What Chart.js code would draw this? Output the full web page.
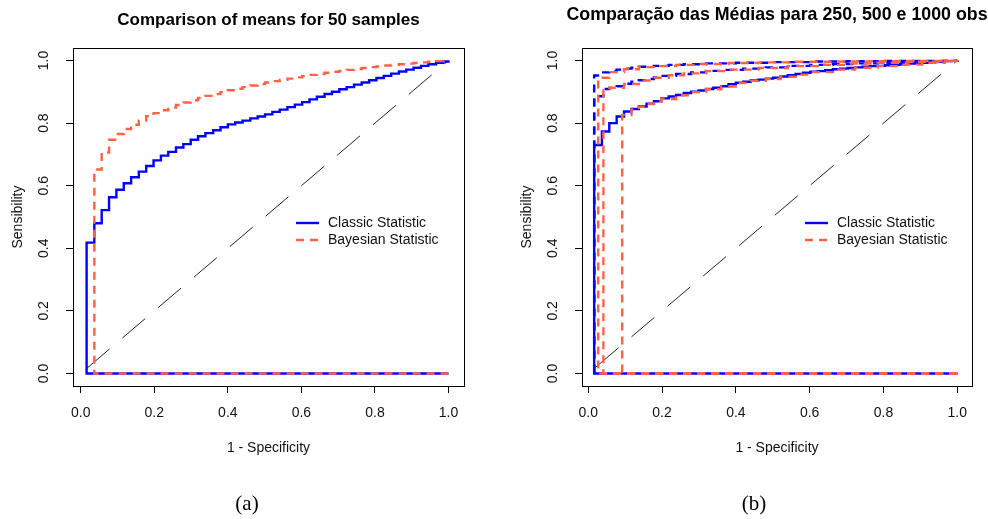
<!DOCTYPE html>
<html lang="pt-BR">
<head>
<meta charset="utf-8">
<title>Curvas ROC</title>
<script src="https://cdn.jsdelivr.net/npm/chart.js@4.4.0/dist/chart.umd.min.js"></script>
<style>
  body { margin: 0; background: #fff; width: 988px; height: 519px; position: relative; overflow: hidden; }
  canvas { position: absolute; top: 0; }
  #graficoA { left: 0; }
  #graficoB { left: 494px; }
  .legenda {
    position: absolute; top: 491px; width: 60px; text-align: center;
    font-family: "Liberation Serif", "DejaVu Serif", serif; font-size: 21px; color: #000;
  }
</style>
</head>
<body>
<canvas id="graficoA" width="494" height="519"></canvas>
<canvas id="graficoB" width="494" height="519"></canvas>
<div class="legenda" style="left:217px">(a)</div>
<div class="legenda" style="left:724px">(b)</div>

<script>
// Marcas dos eixos (0.0 a 1.0)
const marcasEixo = [0, 0.2, 0.4, 0.6, 0.8, 1.0];
const rotulosLegenda = ['Classic Statistic', 'Bayesian Statistic'];

// Pontos de corte de 1 - especificidade (passos da curva ROC)
const fprPassos = [
  0.016, 0.037, 0.057, 0.077, 0.097, 0.117, 0.137, 0.158, 0.178, 0.198,
  0.218, 0.238, 0.259, 0.279, 0.299, 0.319, 0.339, 0.360, 0.380, 0.400,
  0.420, 0.440, 0.461, 0.481, 0.501, 0.521, 0.541, 0.562, 0.582, 0.602,
  0.622, 0.642, 0.663, 0.683, 0.703, 0.723, 0.743, 0.764, 0.784, 0.804,
  0.824, 0.844, 0.865, 0.885, 0.905, 0.925, 0.945, 0.966, 0.986, 1.000
];

// ---- Painel (a): 50 amostras ----
const tprClassico50 = [
  0.418, 0.480, 0.522, 0.563, 0.587, 0.608, 0.627, 0.645, 0.663, 0.681,
  0.696, 0.708, 0.722, 0.733, 0.747, 0.758, 0.768, 0.777, 0.787, 0.796,
  0.802, 0.808, 0.815, 0.821, 0.828, 0.836, 0.843, 0.851, 0.859, 0.867,
  0.876, 0.884, 0.893, 0.900, 0.908, 0.915, 0.923, 0.930, 0.937, 0.944,
  0.951, 0.958, 0.965, 0.971, 0.977, 0.983, 0.988, 0.993, 0.997, 1.000
];
const fprBayes50 = fprPassos.slice(1);
const tprBayes50 = [
         0.652, 0.706, 0.747, 0.765, 0.781, 0.795, 0.808, 0.822, 0.832,
  0.841, 0.850, 0.858, 0.866, 0.873, 0.880, 0.887, 0.893, 0.899, 0.905,
  0.910, 0.915, 0.920, 0.925, 0.930, 0.934, 0.938, 0.942, 0.946, 0.950,
  0.954, 0.957, 0.961, 0.964, 0.967, 0.970, 0.973, 0.976, 0.979, 0.981,
  0.984, 0.986, 0.988, 0.990, 0.992, 0.994, 0.996, 0.998, 0.999, 1.000
];

// ---- Painel (b): 250, 500 e 1000 observações ----
const tprClassico250 = [
  0.730, 0.773, 0.800, 0.821, 0.837, 0.845, 0.853, 0.862, 0.870, 0.879,
  0.885, 0.890, 0.896, 0.900, 0.904, 0.909, 0.913, 0.918, 0.924, 0.929,
  0.932, 0.936, 0.939, 0.942, 0.945, 0.949, 0.953, 0.957, 0.961, 0.964,
  0.966, 0.969, 0.972, 0.974, 0.976, 0.978, 0.980, 0.982, 0.983, 0.985,
  0.986, 0.988, 0.990, 0.992, 0.993, 0.995, 0.997, 0.998, 0.999, 1.000
];
const fprBayes250 = [0.092, 0.117, 0.137, 0.158, 0.178, 0.198, 0.238, 0.279, 0.319, 0.360,
                     0.400, 0.440, 0.481, 0.521, 0.562, 0.602, 0.663, 0.723, 0.784, 0.844,
                     0.905, 0.966, 1.000];
const tprBayes250 = [0.826, 0.843, 0.852, 0.861, 0.869, 0.877, 0.889, 0.899, 0.908, 0.917,
                     0.928, 0.935, 0.941, 0.948, 0.955, 0.963, 0.971, 0.977, 0.982, 0.987,
                     0.993, 0.998, 1.000];

const fprClassico500 = [0.016, 0.041, 0.057, 0.077, 0.097, 0.117, 0.137, 0.158, 0.178, 0.198,
                        0.238, 0.279, 0.319, 0.360, 0.420, 0.481, 0.541, 0.602, 0.663, 0.723,
                        0.784, 0.844, 0.905, 0.966, 1.000];
const tprClassico500 = [0.886, 0.909, 0.912, 0.918, 0.926, 0.932, 0.937, 0.941, 0.946, 0.951,
                        0.957, 0.962, 0.967, 0.970, 0.974, 0.978, 0.983, 0.986, 0.989, 0.991,
                        0.993, 0.995, 0.997, 0.999, 1.000];
const fprBayes500 = [0.041, 0.057, 0.097, 0.137, 0.178, 0.218, 0.259, 0.319, 0.380, 0.461,
                     0.541, 0.622, 0.703, 0.784, 0.865, 0.945, 1.000];
const tprBayes500 = [0.909, 0.913, 0.925, 0.936, 0.945, 0.953, 0.959, 0.966, 0.971, 0.976,
                     0.982, 0.986, 0.990, 0.993, 0.996, 0.998, 1.000];

const fprClassico1000 = [0.016, 0.037, 0.057, 0.077, 0.097, 0.117, 0.137, 0.178, 0.218, 0.259,
                         0.319, 0.400, 0.501, 0.602, 0.703, 0.804, 0.905, 1.000];
const tprClassico1000 = [0.952, 0.962, 0.967, 0.971, 0.974, 0.977, 0.980, 0.983, 0.986, 0.988,
                         0.991, 0.993, 0.995, 0.997, 0.998, 0.999, 0.999, 1.000];
const fprBayes1000 = [0.027, 0.057, 0.097, 0.137, 0.178, 0.238, 0.299, 0.380, 0.461, 0.562,
                      0.663, 0.764, 0.865, 1.000];
const tprBayes1000 = [0.945, 0.963, 0.972, 0.979, 0.982, 0.986, 0.989, 0.992, 0.994, 0.996,
                      0.997, 0.998, 0.999, 1.000];

// Linha de referência y = x (início e fim)
const diagonalA = [0.016, 1];
const diagonalB = [0.02, 1];

const AZUL = '#0000ff';
const VERMELHO = '#ff6347';
const TRACO = [8, 6];
const FONTE = '"Liberation Sans", Arial, Helvetica, sans-serif';

// Monta a curva ROC: parte de (1,0), volta pelo eixo e sobe em degraus
function curvaRoc(fpr, tpr) {
  const pontos = [{ x: 1, y: 0 }, { x: fpr[0], y: 0 }];
  fpr.forEach((x, i) => pontos.push({ x, y: tpr[i] }));
  return pontos;
}

function serie(fpr, tpr, cor, tracejado, ordem) {
  return {
    data: curvaRoc(fpr, tpr),
    borderColor: cor,
    borderWidth: 2.4,
    borderDash: tracejado ? TRACO : [],
    stepped: 'before',
    showLine: true,
    pointRadius: 0,
    order: ordem
  };
}

function serieDiagonal(extremos) {
  return {
    data: extremos.map(v => ({ x: v, y: v })),
    borderColor: '#222',
    borderWidth: 1,
    borderDash: [30, 17],
    showLine: true,
    pointRadius: 0,
    order: 3
  };
}

// Caixa, rótulos, títulos e legenda no estilo do R
const molduraR = {
  id: 'molduraR',
  afterDraw(chart, args, opts) {
    const { ctx, chartArea: a, scales } = chart;
    const cx = (a.left + a.right) / 2;
    ctx.save();
    ctx.strokeStyle = '#000';
    ctx.lineWidth = 1;
    ctx.strokeRect(Math.round(a.left) + 0.5, Math.round(a.top) + 0.5,
                   Math.round(a.right - a.left), Math.round(a.bottom - a.top));

    ctx.fillStyle = '#111';
    ctx.font = '14px ' + FONTE;
    ctx.textAlign = 'center';
    ctx.textBaseline = 'middle';
    marcasEixo.forEach(v => ctx.fillText(v.toFixed(1), scales.x.getPixelForValue(v), a.bottom + 27));
    marcasEixo.forEach(v => {
      ctx.save();
      ctx.translate(a.left - 29, scales.y.getPixelForValue(v));
      ctx.rotate(-Math.PI / 2);
      ctx.fillText(v.toFixed(1), 0, 0);
      ctx.restore();
    });
    ctx.fillText('1 - Specificity', cx, a.bottom + 62);
    ctx.save();
    ctx.translate(a.left - 55, (a.top + a.bottom) / 2);
    ctx.rotate(-Math.PI / 2);
    ctx.fillText('Sensibility', 0, 0);
    ctx.restore();

    ctx.font = 'bold ' + opts.tamanhoTitulo + 'px ' + FONTE;
    ctx.fillStyle = '#000';
    ctx.fillText(opts.titulo, cx, opts.tituloY);

    // legenda
    const lx = a.left + 223, ly = a.top + 175;
    ctx.lineWidth = 2.4;
    ctx.strokeStyle = AZUL;
    ctx.setLineDash([]);
    ctx.beginPath(); ctx.moveTo(lx, ly); ctx.lineTo(lx + 23, ly); ctx.stroke();
    ctx.strokeStyle = VERMELHO;
    ctx.setLineDash(TRACO);
    ctx.beginPath(); ctx.moveTo(lx, ly + 17); ctx.lineTo(lx + 23, ly + 17); ctx.stroke();
    ctx.setLineDash([]);
    ctx.font = '14px ' + FONTE;
    ctx.fillStyle = '#111';
    ctx.textAlign = 'left';
    ctx.fillText(rotulosLegenda[0], lx + 32, ly);
    ctx.fillText(rotulosLegenda[1], lx + 32, ly + 17);
    ctx.restore();
  }
};

function eixo(min, max, tamanho, vertical) {
  return {
    type: 'linear',
    min, max,
    afterBuildTicks: s => { s.ticks = marcasEixo.map(v => ({ value: v })); },
    afterFit: s => { if (vertical) s.width = tamanho; else s.height = tamanho; },
    ticks: { display: false },
    border: { display: false },
    grid: { drawOnChartArea: false, drawTicks: true, tickLength: 7, color: '#000', lineWidth: 1 }
  };
}

function criarGrafico(id, datasets, cfg) {
  return new Chart(document.getElementById(id), {
    type: 'scatter',
    data: { datasets },
    options: {
      responsive: false,
      animation: false,
      devicePixelRatio: 1,
      layout: { padding: { left: 0, top: 48, right: cfg.margemDireita, bottom: 0 } },
      plugins: {
        legend: { display: false },
        tooltip: { enabled: false },
        molduraR: { titulo: cfg.titulo, tituloY: cfg.tituloY, tamanhoTitulo: cfg.tamanhoTitulo }
      },
      scales: {
        x: eixo(cfg.xMin, cfg.xMax, 133, false),
        y: eixo(-0.04, 1.04, cfg.larguraY, true)
      }
    },
    plugins: [molduraR]
  });
}

criarGrafico('graficoA', [
  serie(fprBayes50, tprBayes50, VERMELHO, true, 1),
  serie(fprPassos, tprClassico50, AZUL, false, 2),
  serieDiagonal(diagonalA)
], { titulo: 'Comparison of means for 50 samples', tituloY: 20, tamanhoTitulo: 17,
     xMin: -0.021, xMax: 1.042, larguraY: 73, margemDireita: 30 });

criarGrafico('graficoB', [
  serie(fprBayes250, tprBayes250, VERMELHO, true, 1),
  serie(fprBayes500, tprBayes500, VERMELHO, true, 1),
  serie(fprBayes1000, tprBayes1000, VERMELHO, true, 1),
  serie(fprPassos, tprClassico250, AZUL, false, 2),
  serie(fprClassico500, tprClassico500, AZUL, true, 2),
  serie(fprClassico1000, tprClassico1000, AZUL, true, 2),
  serieDiagonal(diagonalB)
], { titulo: 'Comparação das Médias para 250, 500 e 1000 obs', tituloY: 15, tamanhoTitulo: 17.8,
     xMin: -0.017, xMax: 1.040, larguraY: 88, margemDireita: 16 });
</script>
</body>
</html>
